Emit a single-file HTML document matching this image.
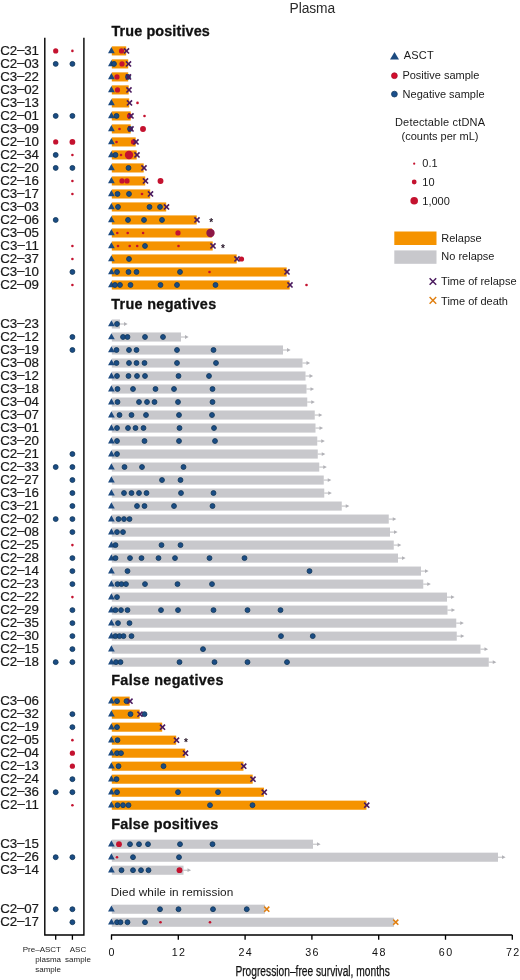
<!DOCTYPE html>
<html lang="en"><head><meta charset="utf-8"><title>Plasma</title>
<style>html,body{margin:0;padding:0;background:#fff}svg{display:block}text{font-family:"Liberation Sans",Arial,Helvetica,sans-serif;fill:#1a1a1a}.lab{font-size:13.3px;stroke:#1a1a1a;stroke-width:0.2px}.hd{font-size:14.4px;font-weight:bold;fill:#111;stroke:#111;stroke-width:0.3px}.lg{font-size:11px;fill:#1a1a1a}.tk{font-size:10.7px;fill:#111;letter-spacing:1.4px}.sm{font-size:8px;fill:#222}</style></head><body>
<svg width="520" height="980" viewBox="0 0 520 980">
<rect width="520" height="980" fill="#fff"/>
<text x="289.6" y="13" style="font-size:13.8px;fill:#2a2a2a" textLength="45.6">Plasma</text>
<text class="hd" x="111.4" y="35.5" textLength="98.4">True positives</text>
<text class="hd" x="111.2" y="308.7" textLength="105">True negatives</text>
<text class="hd" x="111.2" y="685.2" textLength="112.3">False negatives</text>
<text class="hd" x="111.2" y="828.9" textLength="107">False positives</text>
<text x="110.7" y="895.6" style="font-size:11.8px;fill:#1a1a1a" textLength="122.6">Died while in remission</text>
<text class="lab" x="0.3" y="54.6" textLength="38.7">C2<tspan dy="-0.8">–</tspan><tspan dy="0.8">31</tspan></text>
<rect x="111.8" y="46.35" width="14.4" height="9.1" fill="#F59300"/>
<path d="M111.4 47.05L114.75 53.25L108.05 53.25Z" fill="#1C4A80"/>
<circle cx="121.5" cy="50.9" r="2.6" fill="#C4122F"/>
<path d="M123.95 48.35L129.05 53.45M123.95 53.45L129.05 48.35" stroke="#4A1A5E" stroke-width="1.6" fill="none"/>
<circle cx="55.7" cy="50.9" r="2.6" fill="#C4122F"/>
<circle cx="72.4" cy="50.9" r="1.3" fill="#C4122F"/>
<text class="lab" x="0.3" y="67.61" textLength="38.7">C2<tspan dy="-0.8">–</tspan><tspan dy="0.8">03</tspan></text>
<rect x="111.8" y="59.36" width="16.4" height="9.1" fill="#F59300"/>
<path d="M111.4 60.05L114.75 66.25L108.05 66.25Z" fill="#1C4A80"/>
<circle cx="114" cy="63.91" r="2.4499999999999997" fill="#1A4C85" stroke="#133A5C" stroke-width="0.9"/>
<circle cx="122" cy="63.91" r="2.6" fill="#C4122F"/>
<path d="M125.95 61.36L131.05 66.45M125.95 66.45L131.05 61.36" stroke="#4A1A5E" stroke-width="1.6" fill="none"/>
<circle cx="55.7" cy="63.91" r="2.4499999999999997" fill="#1A4C85" stroke="#133A5C" stroke-width="0.9"/>
<circle cx="72.4" cy="63.91" r="2.4499999999999997" fill="#1A4C85" stroke="#133A5C" stroke-width="0.9"/>
<text class="lab" x="0.3" y="80.61" textLength="38.7">C3<tspan dy="-0.8">–</tspan><tspan dy="0.8">22</tspan></text>
<rect x="111.8" y="72.36" width="16.4" height="9.1" fill="#F59300"/>
<path d="M111.4 73.06L114.75 79.26L108.05 79.26Z" fill="#1C4A80"/>
<circle cx="117" cy="76.91" r="2.6" fill="#C4122F"/>
<circle cx="128" cy="76.91" r="2.4499999999999997" fill="#1A4C85" stroke="#133A5C" stroke-width="0.9"/>
<path d="M125.95 74.36L131.05 79.46M125.95 79.46L131.05 74.36" stroke="#4A1A5E" stroke-width="1.6" fill="none"/>
<text class="lab" x="0.3" y="93.61" textLength="38.7">C3<tspan dy="-0.8">–</tspan><tspan dy="0.8">02</tspan></text>
<rect x="111.8" y="85.36" width="16.9" height="9.1" fill="#F59300"/>
<path d="M111.4 86.06L114.75 92.26L108.05 92.26Z" fill="#1C4A80"/>
<circle cx="117.5" cy="89.91" r="2.6" fill="#C4122F"/>
<path d="M126.45 87.36L131.55 92.46M126.45 92.46L131.55 87.36" stroke="#4A1A5E" stroke-width="1.6" fill="none"/>
<text class="lab" x="0.3" y="106.62" textLength="38.7">C3<tspan dy="-0.8">–</tspan><tspan dy="0.8">13</tspan></text>
<rect x="111.8" y="98.37" width="17.4" height="9.1" fill="#F59300"/>
<path d="M111.4 99.07L114.75 105.27L108.05 105.27Z" fill="#1C4A80"/>
<path d="M126.95 100.37L132.05 105.47M126.95 105.47L132.05 100.37" stroke="#4A1A5E" stroke-width="1.6" fill="none"/>
<circle cx="137.5" cy="102.92" r="1.3" fill="#C4122F"/>
<text class="lab" x="0.3" y="119.63" textLength="38.7">C2<tspan dy="-0.8">–</tspan><tspan dy="0.8">01</tspan></text>
<rect x="111.8" y="111.38" width="18.9" height="9.1" fill="#F59300"/>
<path d="M111.4 112.08L114.75 118.28L108.05 118.28Z" fill="#1C4A80"/>
<circle cx="116.5" cy="115.93" r="2.4499999999999997" fill="#1A4C85" stroke="#133A5C" stroke-width="0.9"/>
<circle cx="129.5" cy="115.93" r="2.6" fill="#C4122F"/>
<path d="M128.45 113.38L133.55 118.48M128.45 118.48L133.55 113.38" stroke="#4A1A5E" stroke-width="1.6" fill="none"/>
<circle cx="144.5" cy="115.93" r="1.3" fill="#C4122F"/>
<circle cx="55.7" cy="115.93" r="2.4499999999999997" fill="#1A4C85" stroke="#133A5C" stroke-width="0.9"/>
<circle cx="72.4" cy="115.93" r="2.4499999999999997" fill="#1A4C85" stroke="#133A5C" stroke-width="0.9"/>
<text class="lab" x="0.3" y="132.63" textLength="38.7">C3<tspan dy="-0.8">–</tspan><tspan dy="0.8">09</tspan></text>
<rect x="111.8" y="124.38" width="18.9" height="9.1" fill="#F59300"/>
<path d="M111.4 125.08L114.75 131.28L108.05 131.28Z" fill="#1C4A80"/>
<circle cx="119.5" cy="128.93" r="1.3" fill="#C4122F"/>
<circle cx="130" cy="128.93" r="2.4499999999999997" fill="#1A4C85" stroke="#133A5C" stroke-width="0.9"/>
<path d="M128.45 126.38L133.55 131.48M128.45 131.48L133.55 126.38" stroke="#4A1A5E" stroke-width="1.6" fill="none"/>
<circle cx="143" cy="128.93" r="2.95" fill="#C4122F"/>
<text class="lab" x="0.3" y="145.63" textLength="38.7">C2<tspan dy="-0.8">–</tspan><tspan dy="0.8">10</tspan></text>
<rect x="111.8" y="137.38" width="23.9" height="9.1" fill="#F59300"/>
<path d="M111.4 138.09L114.75 144.28L108.05 144.28Z" fill="#1C4A80"/>
<circle cx="116.5" cy="141.94" r="1.3" fill="#C4122F"/>
<circle cx="133.5" cy="141.94" r="2.6" fill="#C4122F"/>
<path d="M133.45 139.38L138.55 144.49M133.45 144.49L138.55 139.38" stroke="#4A1A5E" stroke-width="1.6" fill="none"/>
<circle cx="55.7" cy="141.94" r="2.6" fill="#C4122F"/>
<circle cx="72.4" cy="141.94" r="2.9" fill="#C4122F"/>
<text class="lab" x="0.3" y="158.64" textLength="38.7">C2<tspan dy="-0.8">–</tspan><tspan dy="0.8">34</tspan></text>
<rect x="111.8" y="150.39" width="24.9" height="9.1" fill="#F59300"/>
<path d="M111.4 151.09L114.75 157.29L108.05 157.29Z" fill="#1C4A80"/>
<circle cx="115.5" cy="154.94" r="2.4499999999999997" fill="#1A4C85" stroke="#133A5C" stroke-width="0.9"/>
<circle cx="121" cy="154.94" r="1.3" fill="#C4122F"/>
<circle cx="129" cy="154.94" r="4.2" fill="#C4122F"/>
<path d="M134.45 152.39L139.55 157.49M134.45 157.49L139.55 152.39" stroke="#4A1A5E" stroke-width="1.6" fill="none"/>
<circle cx="55.7" cy="154.94" r="2.4499999999999997" fill="#1A4C85" stroke="#133A5C" stroke-width="0.9"/>
<circle cx="72.4" cy="154.94" r="1.3" fill="#C4122F"/>
<text class="lab" x="0.3" y="171.64" textLength="38.7">C2<tspan dy="-0.8">–</tspan><tspan dy="0.8">20</tspan></text>
<rect x="111.8" y="163.39" width="31.9" height="9.1" fill="#F59300"/>
<path d="M111.4 164.09L114.75 170.29L108.05 170.29Z" fill="#1C4A80"/>
<circle cx="128.5" cy="167.94" r="2.4499999999999997" fill="#1A4C85" stroke="#133A5C" stroke-width="0.9"/>
<path d="M141.45 165.39L146.55 170.5M141.45 170.5L146.55 165.39" stroke="#4A1A5E" stroke-width="1.6" fill="none"/>
<circle cx="55.7" cy="167.94" r="2.4499999999999997" fill="#1A4C85" stroke="#133A5C" stroke-width="0.9"/>
<circle cx="72.4" cy="167.94" r="2.4499999999999997" fill="#1A4C85" stroke="#133A5C" stroke-width="0.9"/>
<text class="lab" x="0.3" y="184.65" textLength="38.7">C2<tspan dy="-0.8">–</tspan><tspan dy="0.8">16</tspan></text>
<rect x="111.8" y="176.4" width="33.4" height="9.1" fill="#F59300"/>
<path d="M111.4 177.1L114.75 183.3L108.05 183.3Z" fill="#1C4A80"/>
<circle cx="122" cy="180.95" r="2.6" fill="#C4122F"/>
<circle cx="127" cy="180.95" r="2.6" fill="#C4122F"/>
<path d="M142.95 178.4L148.05 183.5M142.95 183.5L148.05 178.4" stroke="#4A1A5E" stroke-width="1.6" fill="none"/>
<circle cx="160.5" cy="180.95" r="2.95" fill="#C4122F"/>
<circle cx="72.4" cy="180.95" r="1.3" fill="#C4122F"/>
<text class="lab" x="0.3" y="197.66" textLength="38.7">C3<tspan dy="-0.8">–</tspan><tspan dy="0.8">17</tspan></text>
<rect x="111.8" y="189.41" width="38.4" height="9.1" fill="#F59300"/>
<path d="M111.4 190.11L114.75 196.31L108.05 196.31Z" fill="#1C4A80"/>
<circle cx="117.5" cy="193.96" r="2.4499999999999997" fill="#1A4C85" stroke="#133A5C" stroke-width="0.9"/>
<circle cx="129" cy="193.96" r="2.4499999999999997" fill="#1A4C85" stroke="#133A5C" stroke-width="0.9"/>
<circle cx="142" cy="193.96" r="1.3" fill="#C4122F"/>
<path d="M147.95 191.41L153.05 196.51M147.95 196.51L153.05 191.41" stroke="#4A1A5E" stroke-width="1.6" fill="none"/>
<circle cx="72.4" cy="193.96" r="1.3" fill="#C4122F"/>
<text class="lab" x="0.3" y="210.66" textLength="38.7">C3<tspan dy="-0.8">–</tspan><tspan dy="0.8">03</tspan></text>
<rect x="111.8" y="202.41" width="54.4" height="9.1" fill="#F59300"/>
<path d="M111.4 203.11L114.75 209.31L108.05 209.31Z" fill="#1C4A80"/>
<circle cx="118" cy="206.96" r="2.4499999999999997" fill="#1A4C85" stroke="#133A5C" stroke-width="0.9"/>
<circle cx="149.5" cy="206.96" r="2.4499999999999997" fill="#1A4C85" stroke="#133A5C" stroke-width="0.9"/>
<circle cx="160" cy="206.96" r="2.4499999999999997" fill="#1A4C85" stroke="#133A5C" stroke-width="0.9"/>
<path d="M163.95 204.41L169.05 209.51M163.95 209.51L169.05 204.41" stroke="#4A1A5E" stroke-width="1.6" fill="none"/>
<text class="lab" x="0.3" y="223.66" textLength="38.7">C2<tspan dy="-0.8">–</tspan><tspan dy="0.8">06</tspan></text>
<rect x="111.8" y="215.41" width="84.9" height="9.1" fill="#F59300"/>
<path d="M111.4 216.12L114.75 222.31L108.05 222.31Z" fill="#1C4A80"/>
<circle cx="128" cy="219.97" r="2.4499999999999997" fill="#1A4C85" stroke="#133A5C" stroke-width="0.9"/>
<circle cx="144" cy="219.97" r="2.4499999999999997" fill="#1A4C85" stroke="#133A5C" stroke-width="0.9"/>
<circle cx="162" cy="219.97" r="2.4499999999999997" fill="#1A4C85" stroke="#133A5C" stroke-width="0.9"/>
<path d="M194.45 217.41L199.55 222.52M194.45 222.52L199.55 217.41" stroke="#4A1A5E" stroke-width="1.6" fill="none"/>
<text x="209.34" y="225.81" style="font-size:10px;font-weight:bold;fill:#231225">*</text>
<circle cx="55.7" cy="219.97" r="2.4499999999999997" fill="#1A4C85" stroke="#133A5C" stroke-width="0.9"/>
<text class="lab" x="0.3" y="236.67" textLength="38.7">C3<tspan dy="-0.8">–</tspan><tspan dy="0.8">05</tspan></text>
<rect x="111.8" y="228.42" width="100.2" height="9.1" fill="#F59300"/>
<path d="M111.4 229.12L114.75 235.32L108.05 235.32Z" fill="#1C4A80"/>
<circle cx="117.3" cy="232.97" r="1.3" fill="#C4122F"/>
<circle cx="127.7" cy="232.97" r="1.3" fill="#C4122F"/>
<circle cx="143.1" cy="232.97" r="1.3" fill="#C4122F"/>
<circle cx="178" cy="232.97" r="2.6" fill="#C4122F"/>
<path d="M207.95 230.42L213.05 235.52M207.95 235.52L213.05 230.42" stroke="#4A1A5E" stroke-width="1.6" fill="none"/>
<circle cx="210.5" cy="232.97" r="4.2" fill="#8E1846"/>
<text class="lab" x="0.3" y="249.68" textLength="38.7">C3<tspan dy="-0.8">–</tspan><tspan dy="0.8">11</tspan></text>
<rect x="111.8" y="241.43" width="100.9" height="9.1" fill="#F59300"/>
<path d="M111.4 242.13L114.75 248.33L108.05 248.33Z" fill="#1C4A80"/>
<circle cx="118" cy="245.98" r="1.3" fill="#C4122F"/>
<circle cx="129.7" cy="245.98" r="1.3" fill="#C4122F"/>
<circle cx="137.2" cy="245.98" r="1.3" fill="#C4122F"/>
<circle cx="145" cy="245.98" r="2.4499999999999997" fill="#1A4C85" stroke="#133A5C" stroke-width="0.9"/>
<circle cx="178.5" cy="245.98" r="1.3" fill="#C4122F"/>
<path d="M210.45 243.43L215.55 248.53M210.45 248.53L215.55 243.43" stroke="#4A1A5E" stroke-width="1.6" fill="none"/>
<text x="221.04" y="251.83" style="font-size:10px;font-weight:bold;fill:#231225">*</text>
<circle cx="72.4" cy="245.98" r="1.3" fill="#C4122F"/>
<text class="lab" x="0.3" y="262.68" textLength="38.7">C2<tspan dy="-0.8">–</tspan><tspan dy="0.8">37</tspan></text>
<rect x="111.8" y="254.43" width="124.9" height="9.1" fill="#F59300"/>
<path d="M111.4 255.13L114.75 261.33L108.05 261.33Z" fill="#1C4A80"/>
<circle cx="129" cy="258.98" r="2.4499999999999997" fill="#1A4C85" stroke="#133A5C" stroke-width="0.9"/>
<circle cx="241.5" cy="258.98" r="2.6" fill="#C4122F"/>
<path d="M234.45 256.43L239.55 261.53M234.45 261.53L239.55 256.43" stroke="#4A1A5E" stroke-width="1.6" fill="none"/>
<circle cx="72.4" cy="258.98" r="1.3" fill="#C4122F"/>
<text class="lab" x="0.3" y="275.69" textLength="38.7">C3<tspan dy="-0.8">–</tspan><tspan dy="0.8">10</tspan></text>
<rect x="111.8" y="267.44" width="174.9" height="9.1" fill="#F59300"/>
<path d="M111.4 268.13L114.75 274.34L108.05 274.34Z" fill="#1C4A80"/>
<circle cx="117" cy="271.99" r="2.4499999999999997" fill="#1A4C85" stroke="#133A5C" stroke-width="0.9"/>
<circle cx="128.5" cy="271.99" r="2.4499999999999997" fill="#1A4C85" stroke="#133A5C" stroke-width="0.9"/>
<circle cx="136.5" cy="271.99" r="2.4499999999999997" fill="#1A4C85" stroke="#133A5C" stroke-width="0.9"/>
<circle cx="180" cy="271.99" r="2.4499999999999997" fill="#1A4C85" stroke="#133A5C" stroke-width="0.9"/>
<circle cx="209.5" cy="271.99" r="1.3" fill="#C4122F"/>
<path d="M284.45 269.44L289.55 274.54M284.45 274.54L289.55 269.44" stroke="#4A1A5E" stroke-width="1.6" fill="none"/>
<circle cx="72.4" cy="271.99" r="2.4499999999999997" fill="#1A4C85" stroke="#133A5C" stroke-width="0.9"/>
<text class="lab" x="0.3" y="288.69" textLength="38.7">C2<tspan dy="-0.8">–</tspan><tspan dy="0.8">09</tspan></text>
<rect x="111.8" y="280.44" width="177.9" height="9.1" fill="#F59300"/>
<path d="M111.4 281.14L114.75 287.34L108.05 287.34Z" fill="#1C4A80"/>
<circle cx="115" cy="284.99" r="2.4499999999999997" fill="#1A4C85" stroke="#133A5C" stroke-width="0.9"/>
<circle cx="120" cy="284.99" r="2.4499999999999997" fill="#1A4C85" stroke="#133A5C" stroke-width="0.9"/>
<circle cx="130.5" cy="284.99" r="2.4499999999999997" fill="#1A4C85" stroke="#133A5C" stroke-width="0.9"/>
<circle cx="160.5" cy="284.99" r="2.4499999999999997" fill="#1A4C85" stroke="#133A5C" stroke-width="0.9"/>
<circle cx="177" cy="284.99" r="2.4499999999999997" fill="#1A4C85" stroke="#133A5C" stroke-width="0.9"/>
<circle cx="215.5" cy="284.99" r="2.4499999999999997" fill="#1A4C85" stroke="#133A5C" stroke-width="0.9"/>
<path d="M287.45 282.44L292.55 287.54M287.45 287.54L292.55 282.44" stroke="#4A1A5E" stroke-width="1.6" fill="none"/>
<circle cx="306.5" cy="284.99" r="1.3" fill="#C4122F"/>
<circle cx="72.4" cy="284.99" r="1.3" fill="#C4122F"/>
<text class="lab" x="0.3" y="327.7" textLength="38.7">C3<tspan dy="-0.8">–</tspan><tspan dy="0.8">23</tspan></text>
<rect x="111.8" y="319.45" width="8.2" height="9.1" fill="#C8C8CC"/>
<path d="M111.4 320.15L114.75 326.36L108.05 326.36Z" fill="#1C4A80"/>
<circle cx="117" cy="324" r="2.4499999999999997" fill="#1A4C85" stroke="#133A5C" stroke-width="0.9"/>
<path d="M120 324H125.6" stroke="#B2B2B7" stroke-width="0.9" fill="none"/><path d="M127.6 324L124 322.11L124 325.9Z" fill="#B2B2B7"/>
<text class="lab" x="0.3" y="340.71" textLength="38.7">C2<tspan dy="-0.8">–</tspan><tspan dy="0.8">12</tspan></text>
<rect x="111.8" y="332.46" width="69.2" height="9.1" fill="#C8C8CC"/>
<path d="M111.4 333.16L114.75 339.36L108.05 339.36Z" fill="#1C4A80"/>
<circle cx="123" cy="337.01" r="2.4499999999999997" fill="#1A4C85" stroke="#133A5C" stroke-width="0.9"/>
<circle cx="127.5" cy="337.01" r="2.4499999999999997" fill="#1A4C85" stroke="#133A5C" stroke-width="0.9"/>
<circle cx="145" cy="337.01" r="2.4499999999999997" fill="#1A4C85" stroke="#133A5C" stroke-width="0.9"/>
<circle cx="163" cy="337.01" r="2.4499999999999997" fill="#1A4C85" stroke="#133A5C" stroke-width="0.9"/>
<path d="M181 337.01H186.6" stroke="#B2B2B7" stroke-width="0.9" fill="none"/><path d="M188.6 337.01L185 335.11L185 338.91Z" fill="#B2B2B7"/>
<circle cx="72.4" cy="337.01" r="2.4499999999999997" fill="#1A4C85" stroke="#133A5C" stroke-width="0.9"/>
<text class="lab" x="0.3" y="353.71" textLength="38.7">C3<tspan dy="-0.8">–</tspan><tspan dy="0.8">19</tspan></text>
<rect x="111.8" y="345.46" width="171.2" height="9.1" fill="#C8C8CC"/>
<path d="M111.4 346.16L114.75 352.37L108.05 352.37Z" fill="#1C4A80"/>
<circle cx="116.5" cy="350.01" r="2.4499999999999997" fill="#1A4C85" stroke="#133A5C" stroke-width="0.9"/>
<circle cx="129" cy="350.01" r="2.4499999999999997" fill="#1A4C85" stroke="#133A5C" stroke-width="0.9"/>
<circle cx="136.5" cy="350.01" r="2.4499999999999997" fill="#1A4C85" stroke="#133A5C" stroke-width="0.9"/>
<circle cx="177" cy="350.01" r="2.4499999999999997" fill="#1A4C85" stroke="#133A5C" stroke-width="0.9"/>
<circle cx="213.5" cy="350.01" r="2.4499999999999997" fill="#1A4C85" stroke="#133A5C" stroke-width="0.9"/>
<path d="M283 350.01H288.6" stroke="#B2B2B7" stroke-width="0.9" fill="none"/><path d="M290.6 350.01L287 348.12L287 351.91Z" fill="#B2B2B7"/>
<circle cx="72.4" cy="350.01" r="2.4499999999999997" fill="#1A4C85" stroke="#133A5C" stroke-width="0.9"/>
<text class="lab" x="0.3" y="366.72" textLength="38.7">C3<tspan dy="-0.8">–</tspan><tspan dy="0.8">08</tspan></text>
<rect x="111.8" y="358.47" width="190.7" height="9.1" fill="#C8C8CC"/>
<path d="M111.4 359.17L114.75 365.37L108.05 365.37Z" fill="#1C4A80"/>
<circle cx="116.5" cy="363.02" r="2.4499999999999997" fill="#1A4C85" stroke="#133A5C" stroke-width="0.9"/>
<circle cx="129" cy="363.02" r="2.4499999999999997" fill="#1A4C85" stroke="#133A5C" stroke-width="0.9"/>
<circle cx="136.5" cy="363.02" r="2.4499999999999997" fill="#1A4C85" stroke="#133A5C" stroke-width="0.9"/>
<circle cx="144.5" cy="363.02" r="2.4499999999999997" fill="#1A4C85" stroke="#133A5C" stroke-width="0.9"/>
<circle cx="177" cy="363.02" r="2.4499999999999997" fill="#1A4C85" stroke="#133A5C" stroke-width="0.9"/>
<circle cx="216" cy="363.02" r="2.4499999999999997" fill="#1A4C85" stroke="#133A5C" stroke-width="0.9"/>
<path d="M302.5 363.02H308.1" stroke="#B2B2B7" stroke-width="0.9" fill="none"/><path d="M310.1 363.02L306.5 361.12L306.5 364.92Z" fill="#B2B2B7"/>
<text class="lab" x="0.3" y="379.72" textLength="38.7">C3<tspan dy="-0.8">–</tspan><tspan dy="0.8">12</tspan></text>
<rect x="111.8" y="371.47" width="193.7" height="9.1" fill="#C8C8CC"/>
<path d="M111.4 372.17L114.75 378.38L108.05 378.38Z" fill="#1C4A80"/>
<circle cx="117" cy="376.02" r="2.4499999999999997" fill="#1A4C85" stroke="#133A5C" stroke-width="0.9"/>
<circle cx="128.5" cy="376.02" r="2.4499999999999997" fill="#1A4C85" stroke="#133A5C" stroke-width="0.9"/>
<circle cx="137" cy="376.02" r="2.4499999999999997" fill="#1A4C85" stroke="#133A5C" stroke-width="0.9"/>
<circle cx="145" cy="376.02" r="2.4499999999999997" fill="#1A4C85" stroke="#133A5C" stroke-width="0.9"/>
<circle cx="178.5" cy="376.02" r="2.4499999999999997" fill="#1A4C85" stroke="#133A5C" stroke-width="0.9"/>
<circle cx="209" cy="376.02" r="2.4499999999999997" fill="#1A4C85" stroke="#133A5C" stroke-width="0.9"/>
<path d="M305.5 376.02H311.1" stroke="#B2B2B7" stroke-width="0.9" fill="none"/><path d="M313.1 376.02L309.5 374.12L309.5 377.92Z" fill="#B2B2B7"/>
<text class="lab" x="0.3" y="392.73" textLength="38.7">C3<tspan dy="-0.8">–</tspan><tspan dy="0.8">18</tspan></text>
<rect x="111.8" y="384.48" width="194.7" height="9.1" fill="#C8C8CC"/>
<path d="M111.4 385.18L114.75 391.38L108.05 391.38Z" fill="#1C4A80"/>
<circle cx="117.5" cy="389.03" r="2.4499999999999997" fill="#1A4C85" stroke="#133A5C" stroke-width="0.9"/>
<circle cx="133" cy="389.03" r="2.4499999999999997" fill="#1A4C85" stroke="#133A5C" stroke-width="0.9"/>
<circle cx="155.5" cy="389.03" r="2.4499999999999997" fill="#1A4C85" stroke="#133A5C" stroke-width="0.9"/>
<circle cx="174" cy="389.03" r="2.4499999999999997" fill="#1A4C85" stroke="#133A5C" stroke-width="0.9"/>
<circle cx="212.5" cy="389.03" r="2.4499999999999997" fill="#1A4C85" stroke="#133A5C" stroke-width="0.9"/>
<path d="M306.5 389.03H312.1" stroke="#B2B2B7" stroke-width="0.9" fill="none"/><path d="M314.1 389.03L310.5 387.13L310.5 390.93Z" fill="#B2B2B7"/>
<text class="lab" x="0.3" y="405.74" textLength="38.7">C3<tspan dy="-0.8">–</tspan><tspan dy="0.8">04</tspan></text>
<rect x="111.8" y="397.49" width="195.45" height="9.1" fill="#C8C8CC"/>
<path d="M111.4 398.19L114.75 404.39L108.05 404.39Z" fill="#1C4A80"/>
<circle cx="117.5" cy="402.04" r="2.4499999999999997" fill="#1A4C85" stroke="#133A5C" stroke-width="0.9"/>
<circle cx="139" cy="402.04" r="2.4499999999999997" fill="#1A4C85" stroke="#133A5C" stroke-width="0.9"/>
<circle cx="147" cy="402.04" r="2.4499999999999997" fill="#1A4C85" stroke="#133A5C" stroke-width="0.9"/>
<circle cx="154.5" cy="402.04" r="2.4499999999999997" fill="#1A4C85" stroke="#133A5C" stroke-width="0.9"/>
<circle cx="178" cy="402.04" r="2.4499999999999997" fill="#1A4C85" stroke="#133A5C" stroke-width="0.9"/>
<circle cx="212.5" cy="402.04" r="2.4499999999999997" fill="#1A4C85" stroke="#133A5C" stroke-width="0.9"/>
<path d="M307.25 402.04H312.85" stroke="#B2B2B7" stroke-width="0.9" fill="none"/><path d="M314.85 402.04L311.25 400.14L311.25 403.94Z" fill="#B2B2B7"/>
<text class="lab" x="0.3" y="418.74" textLength="38.7">C3<tspan dy="-0.8">–</tspan><tspan dy="0.8">07</tspan></text>
<rect x="111.8" y="410.49" width="202.95" height="9.1" fill="#C8C8CC"/>
<path d="M111.4 411.19L114.75 417.39L108.05 417.39Z" fill="#1C4A80"/>
<circle cx="119.5" cy="415.04" r="2.4499999999999997" fill="#1A4C85" stroke="#133A5C" stroke-width="0.9"/>
<circle cx="131.5" cy="415.04" r="2.4499999999999997" fill="#1A4C85" stroke="#133A5C" stroke-width="0.9"/>
<circle cx="146" cy="415.04" r="2.4499999999999997" fill="#1A4C85" stroke="#133A5C" stroke-width="0.9"/>
<circle cx="179" cy="415.04" r="2.4499999999999997" fill="#1A4C85" stroke="#133A5C" stroke-width="0.9"/>
<circle cx="212" cy="415.04" r="2.4499999999999997" fill="#1A4C85" stroke="#133A5C" stroke-width="0.9"/>
<path d="M314.75 415.04H320.35" stroke="#B2B2B7" stroke-width="0.9" fill="none"/><path d="M322.35 415.04L318.75 413.14L318.75 416.94Z" fill="#B2B2B7"/>
<text class="lab" x="0.3" y="431.75" textLength="38.7">C3<tspan dy="-0.8">–</tspan><tspan dy="0.8">01</tspan></text>
<rect x="111.8" y="423.5" width="203.7" height="9.1" fill="#C8C8CC"/>
<path d="M111.4 424.19L114.75 430.4L108.05 430.4Z" fill="#1C4A80"/>
<circle cx="117" cy="428.05" r="2.4499999999999997" fill="#1A4C85" stroke="#133A5C" stroke-width="0.9"/>
<circle cx="128" cy="428.05" r="2.4499999999999997" fill="#1A4C85" stroke="#133A5C" stroke-width="0.9"/>
<circle cx="135.5" cy="428.05" r="2.4499999999999997" fill="#1A4C85" stroke="#133A5C" stroke-width="0.9"/>
<circle cx="143.5" cy="428.05" r="2.4499999999999997" fill="#1A4C85" stroke="#133A5C" stroke-width="0.9"/>
<circle cx="179.5" cy="428.05" r="2.4499999999999997" fill="#1A4C85" stroke="#133A5C" stroke-width="0.9"/>
<circle cx="214" cy="428.05" r="2.4499999999999997" fill="#1A4C85" stroke="#133A5C" stroke-width="0.9"/>
<path d="M315.5 428.05H321.1" stroke="#B2B2B7" stroke-width="0.9" fill="none"/><path d="M323.1 428.05L319.5 426.15L319.5 429.94Z" fill="#B2B2B7"/>
<text class="lab" x="0.3" y="444.75" textLength="38.7">C3<tspan dy="-0.8">–</tspan><tspan dy="0.8">20</tspan></text>
<rect x="111.8" y="436.5" width="205.45" height="9.1" fill="#C8C8CC"/>
<path d="M111.4 437.2L114.75 443.4L108.05 443.4Z" fill="#1C4A80"/>
<circle cx="117" cy="441.05" r="2.4499999999999997" fill="#1A4C85" stroke="#133A5C" stroke-width="0.9"/>
<circle cx="144.5" cy="441.05" r="2.4499999999999997" fill="#1A4C85" stroke="#133A5C" stroke-width="0.9"/>
<circle cx="179" cy="441.05" r="2.4499999999999997" fill="#1A4C85" stroke="#133A5C" stroke-width="0.9"/>
<circle cx="215" cy="441.05" r="2.4499999999999997" fill="#1A4C85" stroke="#133A5C" stroke-width="0.9"/>
<path d="M317.25 441.05H322.85" stroke="#B2B2B7" stroke-width="0.9" fill="none"/><path d="M324.85 441.05L321.25 439.15L321.25 442.95Z" fill="#B2B2B7"/>
<text class="lab" x="0.3" y="457.75" textLength="38.7">C2<tspan dy="-0.8">–</tspan><tspan dy="0.8">21</tspan></text>
<rect x="111.8" y="449.5" width="205.95" height="9.1" fill="#C8C8CC"/>
<path d="M111.4 450.2L114.75 456.41L108.05 456.41Z" fill="#1C4A80"/>
<circle cx="117" cy="454.06" r="2.4499999999999997" fill="#1A4C85" stroke="#133A5C" stroke-width="0.9"/>
<path d="M317.75 454.06H323.35" stroke="#B2B2B7" stroke-width="0.9" fill="none"/><path d="M325.35 454.06L321.75 452.16L321.75 455.95Z" fill="#B2B2B7"/>
<circle cx="72.4" cy="454.06" r="2.4499999999999997" fill="#1A4C85" stroke="#133A5C" stroke-width="0.9"/>
<text class="lab" x="0.3" y="470.76" textLength="38.7">C2<tspan dy="-0.8">–</tspan><tspan dy="0.8">33</tspan></text>
<rect x="111.8" y="462.51" width="207.45" height="9.1" fill="#C8C8CC"/>
<path d="M111.4 463.21L114.75 469.41L108.05 469.41Z" fill="#1C4A80"/>
<circle cx="124.5" cy="467.06" r="2.4499999999999997" fill="#1A4C85" stroke="#133A5C" stroke-width="0.9"/>
<circle cx="142" cy="467.06" r="2.4499999999999997" fill="#1A4C85" stroke="#133A5C" stroke-width="0.9"/>
<circle cx="183.5" cy="467.06" r="2.4499999999999997" fill="#1A4C85" stroke="#133A5C" stroke-width="0.9"/>
<path d="M319.25 467.06H324.85" stroke="#B2B2B7" stroke-width="0.9" fill="none"/><path d="M326.85 467.06L323.25 465.16L323.25 468.96Z" fill="#B2B2B7"/>
<circle cx="55.7" cy="467.06" r="2.4499999999999997" fill="#1A4C85" stroke="#133A5C" stroke-width="0.9"/>
<circle cx="72.4" cy="467.06" r="2.4499999999999997" fill="#1A4C85" stroke="#133A5C" stroke-width="0.9"/>
<text class="lab" x="0.3" y="483.76" textLength="38.7">C2<tspan dy="-0.8">–</tspan><tspan dy="0.8">27</tspan></text>
<rect x="111.8" y="475.51" width="211.95" height="9.1" fill="#C8C8CC"/>
<path d="M111.4 476.21L114.75 482.42L108.05 482.42Z" fill="#1C4A80"/>
<circle cx="162" cy="480.06" r="2.4499999999999997" fill="#1A4C85" stroke="#133A5C" stroke-width="0.9"/>
<circle cx="180.5" cy="480.06" r="2.4499999999999997" fill="#1A4C85" stroke="#133A5C" stroke-width="0.9"/>
<path d="M323.75 480.06H329.35" stroke="#B2B2B7" stroke-width="0.9" fill="none"/><path d="M331.35 480.06L327.75 478.17L327.75 481.96Z" fill="#B2B2B7"/>
<circle cx="72.4" cy="480.06" r="2.4499999999999997" fill="#1A4C85" stroke="#133A5C" stroke-width="0.9"/>
<text class="lab" x="0.3" y="496.77" textLength="38.7">C3<tspan dy="-0.8">–</tspan><tspan dy="0.8">16</tspan></text>
<rect x="111.8" y="488.52" width="212.45" height="9.1" fill="#C8C8CC"/>
<path d="M111.4 489.22L114.75 495.42L108.05 495.42Z" fill="#1C4A80"/>
<circle cx="124" cy="493.07" r="2.4499999999999997" fill="#1A4C85" stroke="#133A5C" stroke-width="0.9"/>
<circle cx="131.5" cy="493.07" r="2.4499999999999997" fill="#1A4C85" stroke="#133A5C" stroke-width="0.9"/>
<circle cx="139" cy="493.07" r="2.4499999999999997" fill="#1A4C85" stroke="#133A5C" stroke-width="0.9"/>
<circle cx="146.5" cy="493.07" r="2.4499999999999997" fill="#1A4C85" stroke="#133A5C" stroke-width="0.9"/>
<circle cx="181" cy="493.07" r="2.4499999999999997" fill="#1A4C85" stroke="#133A5C" stroke-width="0.9"/>
<circle cx="213.5" cy="493.07" r="2.4499999999999997" fill="#1A4C85" stroke="#133A5C" stroke-width="0.9"/>
<path d="M324.25 493.07H329.85" stroke="#B2B2B7" stroke-width="0.9" fill="none"/><path d="M331.85 493.07L328.25 491.17L328.25 494.97Z" fill="#B2B2B7"/>
<circle cx="72.4" cy="493.07" r="2.4499999999999997" fill="#1A4C85" stroke="#133A5C" stroke-width="0.9"/>
<text class="lab" x="0.3" y="509.77" textLength="38.7">C3<tspan dy="-0.8">–</tspan><tspan dy="0.8">21</tspan></text>
<rect x="111.8" y="501.52" width="229.95" height="9.1" fill="#C8C8CC"/>
<path d="M111.4 502.22L114.75 508.43L108.05 508.43Z" fill="#1C4A80"/>
<circle cx="137" cy="506.07" r="2.4499999999999997" fill="#1A4C85" stroke="#133A5C" stroke-width="0.9"/>
<circle cx="144.5" cy="506.07" r="2.4499999999999997" fill="#1A4C85" stroke="#133A5C" stroke-width="0.9"/>
<circle cx="174" cy="506.07" r="2.4499999999999997" fill="#1A4C85" stroke="#133A5C" stroke-width="0.9"/>
<circle cx="212.5" cy="506.07" r="2.4499999999999997" fill="#1A4C85" stroke="#133A5C" stroke-width="0.9"/>
<path d="M341.75 506.07H347.35" stroke="#B2B2B7" stroke-width="0.9" fill="none"/><path d="M349.35 506.07L345.75 504.18L345.75 507.97Z" fill="#B2B2B7"/>
<circle cx="72.4" cy="506.07" r="2.4499999999999997" fill="#1A4C85" stroke="#133A5C" stroke-width="0.9"/>
<text class="lab" x="0.3" y="522.78" textLength="38.7">C2<tspan dy="-0.8">–</tspan><tspan dy="0.8">02</tspan></text>
<rect x="111.8" y="514.53" width="276.95" height="9.1" fill="#C8C8CC"/>
<path d="M111.4 515.23L114.75 521.43L108.05 521.43Z" fill="#1C4A80"/>
<circle cx="118.5" cy="519.08" r="2.4499999999999997" fill="#1A4C85" stroke="#133A5C" stroke-width="0.9"/>
<circle cx="124" cy="519.08" r="2.4499999999999997" fill="#1A4C85" stroke="#133A5C" stroke-width="0.9"/>
<circle cx="129.5" cy="519.08" r="2.4499999999999997" fill="#1A4C85" stroke="#133A5C" stroke-width="0.9"/>
<path d="M388.75 519.08H394.35" stroke="#B2B2B7" stroke-width="0.9" fill="none"/><path d="M396.35 519.08L392.75 517.18L392.75 520.98Z" fill="#B2B2B7"/>
<circle cx="55.7" cy="519.08" r="2.4499999999999997" fill="#1A4C85" stroke="#133A5C" stroke-width="0.9"/>
<circle cx="72.4" cy="519.08" r="2.4499999999999997" fill="#1A4C85" stroke="#133A5C" stroke-width="0.9"/>
<text class="lab" x="0.3" y="535.79" textLength="38.7">C2<tspan dy="-0.8">–</tspan><tspan dy="0.8">08</tspan></text>
<rect x="111.8" y="527.54" width="278.2" height="9.1" fill="#C8C8CC"/>
<path d="M111.4 528.24L114.75 534.44L108.05 534.44Z" fill="#1C4A80"/>
<circle cx="117" cy="532.09" r="2.4499999999999997" fill="#1A4C85" stroke="#133A5C" stroke-width="0.9"/>
<circle cx="123" cy="532.09" r="2.4499999999999997" fill="#1A4C85" stroke="#133A5C" stroke-width="0.9"/>
<path d="M390 532.09H395.6" stroke="#B2B2B7" stroke-width="0.9" fill="none"/><path d="M397.6 532.09L394 530.19L394 533.99Z" fill="#B2B2B7"/>
<circle cx="72.4" cy="532.09" r="2.4499999999999997" fill="#1A4C85" stroke="#133A5C" stroke-width="0.9"/>
<text class="lab" x="0.3" y="548.79" textLength="38.7">C2<tspan dy="-0.8">–</tspan><tspan dy="0.8">25</tspan></text>
<rect x="111.8" y="540.54" width="281.95" height="9.1" fill="#C8C8CC"/>
<path d="M111.4 541.24L114.75 547.44L108.05 547.44Z" fill="#1C4A80"/>
<circle cx="115.5" cy="545.09" r="2.4499999999999997" fill="#1A4C85" stroke="#133A5C" stroke-width="0.9"/>
<circle cx="161.5" cy="545.09" r="2.4499999999999997" fill="#1A4C85" stroke="#133A5C" stroke-width="0.9"/>
<circle cx="180.5" cy="545.09" r="2.4499999999999997" fill="#1A4C85" stroke="#133A5C" stroke-width="0.9"/>
<path d="M393.75 545.09H399.35" stroke="#B2B2B7" stroke-width="0.9" fill="none"/><path d="M401.35 545.09L397.75 543.19L397.75 546.99Z" fill="#B2B2B7"/>
<circle cx="72.4" cy="545.09" r="1.3" fill="#C4122F"/>
<text class="lab" x="0.3" y="561.8" textLength="38.7">C2<tspan dy="-0.8">–</tspan><tspan dy="0.8">28</tspan></text>
<rect x="111.8" y="553.55" width="286.2" height="9.1" fill="#C8C8CC"/>
<path d="M111.4 554.25L114.75 560.45L108.05 560.45Z" fill="#1C4A80"/>
<circle cx="115.5" cy="558.1" r="2.4499999999999997" fill="#1A4C85" stroke="#133A5C" stroke-width="0.9"/>
<circle cx="130" cy="558.1" r="2.4499999999999997" fill="#1A4C85" stroke="#133A5C" stroke-width="0.9"/>
<circle cx="141.5" cy="558.1" r="2.4499999999999997" fill="#1A4C85" stroke="#133A5C" stroke-width="0.9"/>
<circle cx="158.5" cy="558.1" r="2.4499999999999997" fill="#1A4C85" stroke="#133A5C" stroke-width="0.9"/>
<circle cx="175" cy="558.1" r="2.4499999999999997" fill="#1A4C85" stroke="#133A5C" stroke-width="0.9"/>
<circle cx="209.5" cy="558.1" r="2.4499999999999997" fill="#1A4C85" stroke="#133A5C" stroke-width="0.9"/>
<circle cx="244.5" cy="558.1" r="2.4499999999999997" fill="#1A4C85" stroke="#133A5C" stroke-width="0.9"/>
<path d="M398 558.1H403.6" stroke="#B2B2B7" stroke-width="0.9" fill="none"/><path d="M405.6 558.1L402 556.2L402 560Z" fill="#B2B2B7"/>
<circle cx="72.4" cy="558.1" r="2.4499999999999997" fill="#1A4C85" stroke="#133A5C" stroke-width="0.9"/>
<text class="lab" x="0.3" y="574.8" textLength="38.7">C2<tspan dy="-0.8">–</tspan><tspan dy="0.8">14</tspan></text>
<rect x="111.8" y="566.55" width="309.2" height="9.1" fill="#C8C8CC"/>
<path d="M111.4 567.25L114.75 573.45L108.05 573.45Z" fill="#1C4A80"/>
<circle cx="127.5" cy="571.1" r="2.4499999999999997" fill="#1A4C85" stroke="#133A5C" stroke-width="0.9"/>
<circle cx="309.5" cy="571.1" r="2.4499999999999997" fill="#1A4C85" stroke="#133A5C" stroke-width="0.9"/>
<path d="M421 571.1H426.6" stroke="#B2B2B7" stroke-width="0.9" fill="none"/><path d="M428.6 571.1L425 569.2L425 573Z" fill="#B2B2B7"/>
<circle cx="72.4" cy="571.1" r="2.4499999999999997" fill="#1A4C85" stroke="#133A5C" stroke-width="0.9"/>
<text class="lab" x="0.3" y="587.81" textLength="38.7">C2<tspan dy="-0.8">–</tspan><tspan dy="0.8">23</tspan></text>
<rect x="111.8" y="579.56" width="311.45" height="9.1" fill="#C8C8CC"/>
<path d="M111.4 580.25L114.75 586.46L108.05 586.46Z" fill="#1C4A80"/>
<circle cx="117.5" cy="584.11" r="2.4499999999999997" fill="#1A4C85" stroke="#133A5C" stroke-width="0.9"/>
<circle cx="121.5" cy="584.11" r="2.4499999999999997" fill="#1A4C85" stroke="#133A5C" stroke-width="0.9"/>
<circle cx="126" cy="584.11" r="2.4499999999999997" fill="#1A4C85" stroke="#133A5C" stroke-width="0.9"/>
<circle cx="145" cy="584.11" r="2.4499999999999997" fill="#1A4C85" stroke="#133A5C" stroke-width="0.9"/>
<circle cx="177.5" cy="584.11" r="2.4499999999999997" fill="#1A4C85" stroke="#133A5C" stroke-width="0.9"/>
<circle cx="212" cy="584.11" r="2.4499999999999997" fill="#1A4C85" stroke="#133A5C" stroke-width="0.9"/>
<path d="M423.25 584.11H428.85" stroke="#B2B2B7" stroke-width="0.9" fill="none"/><path d="M430.85 584.11L427.25 582.21L427.25 586Z" fill="#B2B2B7"/>
<circle cx="72.4" cy="584.11" r="2.4499999999999997" fill="#1A4C85" stroke="#133A5C" stroke-width="0.9"/>
<text class="lab" x="0.3" y="600.81" textLength="38.7">C2<tspan dy="-0.8">–</tspan><tspan dy="0.8">22</tspan></text>
<rect x="111.8" y="592.56" width="335.2" height="9.1" fill="#C8C8CC"/>
<path d="M111.4 593.26L114.75 599.46L108.05 599.46Z" fill="#1C4A80"/>
<circle cx="117" cy="597.11" r="2.4499999999999997" fill="#1A4C85" stroke="#133A5C" stroke-width="0.9"/>
<path d="M447 597.11H452.6" stroke="#B2B2B7" stroke-width="0.9" fill="none"/><path d="M454.6 597.11L451 595.21L451 599.01Z" fill="#B2B2B7"/>
<circle cx="72.4" cy="597.11" r="1.3" fill="#C4122F"/>
<text class="lab" x="0.3" y="613.82" textLength="38.7">C2<tspan dy="-0.8">–</tspan><tspan dy="0.8">29</tspan></text>
<rect x="111.8" y="605.57" width="335.7" height="9.1" fill="#C8C8CC"/>
<path d="M111.4 606.26L114.75 612.47L108.05 612.47Z" fill="#1C4A80"/>
<circle cx="115.5" cy="610.12" r="2.4499999999999997" fill="#1A4C85" stroke="#133A5C" stroke-width="0.9"/>
<circle cx="121" cy="610.12" r="2.4499999999999997" fill="#1A4C85" stroke="#133A5C" stroke-width="0.9"/>
<circle cx="127.5" cy="610.12" r="2.4499999999999997" fill="#1A4C85" stroke="#133A5C" stroke-width="0.9"/>
<circle cx="161" cy="610.12" r="2.4499999999999997" fill="#1A4C85" stroke="#133A5C" stroke-width="0.9"/>
<circle cx="178" cy="610.12" r="2.4499999999999997" fill="#1A4C85" stroke="#133A5C" stroke-width="0.9"/>
<circle cx="213.5" cy="610.12" r="2.4499999999999997" fill="#1A4C85" stroke="#133A5C" stroke-width="0.9"/>
<circle cx="247.5" cy="610.12" r="2.4499999999999997" fill="#1A4C85" stroke="#133A5C" stroke-width="0.9"/>
<circle cx="280.5" cy="610.12" r="2.4499999999999997" fill="#1A4C85" stroke="#133A5C" stroke-width="0.9"/>
<path d="M447.5 610.12H453.1" stroke="#B2B2B7" stroke-width="0.9" fill="none"/><path d="M455.1 610.12L451.5 608.22L451.5 612.01Z" fill="#B2B2B7"/>
<circle cx="72.4" cy="610.12" r="2.4499999999999997" fill="#1A4C85" stroke="#133A5C" stroke-width="0.9"/>
<text class="lab" x="0.3" y="626.82" textLength="38.7">C2<tspan dy="-0.8">–</tspan><tspan dy="0.8">35</tspan></text>
<rect x="111.8" y="618.57" width="344.45" height="9.1" fill="#C8C8CC"/>
<path d="M111.4 619.27L114.75 625.47L108.05 625.47Z" fill="#1C4A80"/>
<circle cx="118" cy="623.12" r="2.4499999999999997" fill="#1A4C85" stroke="#133A5C" stroke-width="0.9"/>
<circle cx="129.5" cy="623.12" r="2.4499999999999997" fill="#1A4C85" stroke="#133A5C" stroke-width="0.9"/>
<path d="M456.25 623.12H461.85" stroke="#B2B2B7" stroke-width="0.9" fill="none"/><path d="M463.85 623.12L460.25 621.22L460.25 625.02Z" fill="#B2B2B7"/>
<circle cx="72.4" cy="623.12" r="2.4499999999999997" fill="#1A4C85" stroke="#133A5C" stroke-width="0.9"/>
<text class="lab" x="0.3" y="639.83" textLength="38.7">C2<tspan dy="-0.8">–</tspan><tspan dy="0.8">30</tspan></text>
<rect x="111.8" y="631.58" width="344.95" height="9.1" fill="#C8C8CC"/>
<path d="M111.4 632.27L114.75 638.48L108.05 638.48Z" fill="#1C4A80"/>
<circle cx="115.5" cy="636.12" r="2.4499999999999997" fill="#1A4C85" stroke="#133A5C" stroke-width="0.9"/>
<circle cx="119.5" cy="636.12" r="2.4499999999999997" fill="#1A4C85" stroke="#133A5C" stroke-width="0.9"/>
<circle cx="123.5" cy="636.12" r="2.4499999999999997" fill="#1A4C85" stroke="#133A5C" stroke-width="0.9"/>
<circle cx="131.5" cy="636.12" r="2.4499999999999997" fill="#1A4C85" stroke="#133A5C" stroke-width="0.9"/>
<circle cx="281" cy="636.12" r="2.4499999999999997" fill="#1A4C85" stroke="#133A5C" stroke-width="0.9"/>
<circle cx="312.75" cy="636.12" r="2.4499999999999997" fill="#1A4C85" stroke="#133A5C" stroke-width="0.9"/>
<path d="M456.75 636.12H462.35" stroke="#B2B2B7" stroke-width="0.9" fill="none"/><path d="M464.35 636.12L460.75 634.23L460.75 638.02Z" fill="#B2B2B7"/>
<circle cx="72.4" cy="636.12" r="2.4499999999999997" fill="#1A4C85" stroke="#133A5C" stroke-width="0.9"/>
<text class="lab" x="0.3" y="652.83" textLength="38.7">C2<tspan dy="-0.8">–</tspan><tspan dy="0.8">15</tspan></text>
<rect x="111.8" y="644.58" width="368.7" height="9.1" fill="#C8C8CC"/>
<path d="M111.4 645.28L114.75 651.48L108.05 651.48Z" fill="#1C4A80"/>
<circle cx="203" cy="649.13" r="2.4499999999999997" fill="#1A4C85" stroke="#133A5C" stroke-width="0.9"/>
<path d="M480.5 649.13H486.1" stroke="#B2B2B7" stroke-width="0.9" fill="none"/><path d="M488.1 649.13L484.5 647.23L484.5 651.03Z" fill="#B2B2B7"/>
<circle cx="72.4" cy="649.13" r="2.4499999999999997" fill="#1A4C85" stroke="#133A5C" stroke-width="0.9"/>
<text class="lab" x="0.3" y="665.84" textLength="38.7">C2<tspan dy="-0.8">–</tspan><tspan dy="0.8">18</tspan></text>
<rect x="111.8" y="657.59" width="376.95" height="9.1" fill="#C8C8CC"/>
<path d="M111.4 658.28L114.75 664.49L108.05 664.49Z" fill="#1C4A80"/>
<circle cx="116" cy="662.13" r="2.4499999999999997" fill="#1A4C85" stroke="#133A5C" stroke-width="0.9"/>
<circle cx="120.5" cy="662.13" r="2.4499999999999997" fill="#1A4C85" stroke="#133A5C" stroke-width="0.9"/>
<circle cx="179.5" cy="662.13" r="2.4499999999999997" fill="#1A4C85" stroke="#133A5C" stroke-width="0.9"/>
<circle cx="214.5" cy="662.13" r="2.4499999999999997" fill="#1A4C85" stroke="#133A5C" stroke-width="0.9"/>
<circle cx="247.5" cy="662.13" r="2.4499999999999997" fill="#1A4C85" stroke="#133A5C" stroke-width="0.9"/>
<circle cx="287" cy="662.13" r="2.4499999999999997" fill="#1A4C85" stroke="#133A5C" stroke-width="0.9"/>
<path d="M488.75 662.13H494.35" stroke="#B2B2B7" stroke-width="0.9" fill="none"/><path d="M496.35 662.13L492.75 660.24L492.75 664.03Z" fill="#B2B2B7"/>
<circle cx="55.7" cy="662.13" r="2.4499999999999997" fill="#1A4C85" stroke="#133A5C" stroke-width="0.9"/>
<circle cx="72.4" cy="662.13" r="2.4499999999999997" fill="#1A4C85" stroke="#133A5C" stroke-width="0.9"/>
<text class="lab" x="0.3" y="704.85" textLength="38.7">C3<tspan dy="-0.8">–</tspan><tspan dy="0.8">06</tspan></text>
<rect x="111.8" y="696.6" width="17.9" height="9.1" fill="#F59300"/>
<path d="M111.4 697.3L114.75 703.5L108.05 703.5Z" fill="#1C4A80"/>
<circle cx="117" cy="701.15" r="2.4499999999999997" fill="#1A4C85" stroke="#133A5C" stroke-width="0.9"/>
<circle cx="126.5" cy="701.15" r="2.4499999999999997" fill="#1A4C85" stroke="#133A5C" stroke-width="0.9"/>
<path d="M127.45 698.6L132.55 703.7M127.45 703.7L132.55 698.6" stroke="#4A1A5E" stroke-width="1.6" fill="none"/>
<text class="lab" x="0.3" y="717.86" textLength="38.7">C2<tspan dy="-0.8">–</tspan><tspan dy="0.8">32</tspan></text>
<rect x="111.8" y="709.61" width="27.9" height="9.1" fill="#F59300"/>
<path d="M111.4 710.3L114.75 716.5L108.05 716.5Z" fill="#1C4A80"/>
<circle cx="130.5" cy="714.15" r="2.4499999999999997" fill="#1A4C85" stroke="#133A5C" stroke-width="0.9"/>
<circle cx="144.5" cy="714.15" r="2.4499999999999997" fill="#1A4C85" stroke="#133A5C" stroke-width="0.9"/>
<path d="M137.45 711.61L142.55 716.7M137.45 716.7L142.55 711.61" stroke="#4A1A5E" stroke-width="1.6" fill="none"/>
<circle cx="72.4" cy="714.15" r="2.4499999999999997" fill="#1A4C85" stroke="#133A5C" stroke-width="0.9"/>
<text class="lab" x="0.3" y="730.86" textLength="38.7">C2<tspan dy="-0.8">–</tspan><tspan dy="0.8">19</tspan></text>
<rect x="111.8" y="722.61" width="50.4" height="9.1" fill="#F59300"/>
<path d="M111.4 723.31L114.75 729.51L108.05 729.51Z" fill="#1C4A80"/>
<circle cx="117" cy="727.16" r="2.4499999999999997" fill="#1A4C85" stroke="#133A5C" stroke-width="0.9"/>
<path d="M159.95 724.61L165.05 729.71M159.95 729.71L165.05 724.61" stroke="#4A1A5E" stroke-width="1.6" fill="none"/>
<circle cx="72.4" cy="727.16" r="2.4499999999999997" fill="#1A4C85" stroke="#133A5C" stroke-width="0.9"/>
<text class="lab" x="0.3" y="743.87" textLength="38.7">C2<tspan dy="-0.8">–</tspan><tspan dy="0.8">05</tspan></text>
<rect x="111.8" y="735.62" width="64.4" height="9.1" fill="#F59300"/>
<path d="M111.4 736.31L114.75 742.51L108.05 742.51Z" fill="#1C4A80"/>
<circle cx="117.5" cy="740.16" r="2.4499999999999997" fill="#1A4C85" stroke="#133A5C" stroke-width="0.9"/>
<path d="M173.95 737.62L179.05 742.71M173.95 742.71L179.05 737.62" stroke="#4A1A5E" stroke-width="1.6" fill="none"/>
<text x="184.04" y="746.01" style="font-size:10px;font-weight:bold;fill:#231225">*</text>
<circle cx="72.4" cy="740.16" r="1.3" fill="#C4122F"/>
<text class="lab" x="0.3" y="756.87" textLength="38.7">C2<tspan dy="-0.8">–</tspan><tspan dy="0.8">04</tspan></text>
<rect x="111.8" y="748.62" width="73.4" height="9.1" fill="#F59300"/>
<path d="M111.4 749.32L114.75 755.52L108.05 755.52Z" fill="#1C4A80"/>
<circle cx="117" cy="753.17" r="2.4499999999999997" fill="#1A4C85" stroke="#133A5C" stroke-width="0.9"/>
<circle cx="121" cy="753.17" r="2.4499999999999997" fill="#1A4C85" stroke="#133A5C" stroke-width="0.9"/>
<path d="M182.95 750.62L188.05 755.72M182.95 755.72L188.05 750.62" stroke="#4A1A5E" stroke-width="1.6" fill="none"/>
<circle cx="72.4" cy="753.17" r="2.6" fill="#C4122F"/>
<text class="lab" x="0.3" y="769.88" textLength="38.7">C2<tspan dy="-0.8">–</tspan><tspan dy="0.8">13</tspan></text>
<rect x="111.8" y="761.63" width="131.65" height="9.1" fill="#F59300"/>
<path d="M111.4 762.33L114.75 768.53L108.05 768.53Z" fill="#1C4A80"/>
<circle cx="118.5" cy="766.18" r="2.4499999999999997" fill="#1A4C85" stroke="#133A5C" stroke-width="0.9"/>
<circle cx="163.5" cy="766.18" r="2.4499999999999997" fill="#1A4C85" stroke="#133A5C" stroke-width="0.9"/>
<path d="M241.2 763.63L246.3 768.73M241.2 768.73L246.3 763.63" stroke="#4A1A5E" stroke-width="1.6" fill="none"/>
<circle cx="72.4" cy="766.18" r="2.6" fill="#C4122F"/>
<text class="lab" x="0.3" y="782.88" textLength="38.7">C2<tspan dy="-0.8">–</tspan><tspan dy="0.8">24</tspan></text>
<rect x="111.8" y="774.63" width="140.9" height="9.1" fill="#F59300"/>
<path d="M111.4 775.33L114.75 781.53L108.05 781.53Z" fill="#1C4A80"/>
<circle cx="116.5" cy="779.18" r="2.4499999999999997" fill="#1A4C85" stroke="#133A5C" stroke-width="0.9"/>
<path d="M250.45 776.63L255.55 781.73M250.45 781.73L255.55 776.63" stroke="#4A1A5E" stroke-width="1.6" fill="none"/>
<circle cx="72.4" cy="779.18" r="2.4499999999999997" fill="#1A4C85" stroke="#133A5C" stroke-width="0.9"/>
<text class="lab" x="0.3" y="795.89" textLength="38.7">C2<tspan dy="-0.8">–</tspan><tspan dy="0.8">36</tspan></text>
<rect x="111.8" y="787.64" width="152.15" height="9.1" fill="#F59300"/>
<path d="M111.4 788.34L114.75 794.54L108.05 794.54Z" fill="#1C4A80"/>
<circle cx="117" cy="792.19" r="2.4499999999999997" fill="#1A4C85" stroke="#133A5C" stroke-width="0.9"/>
<circle cx="178" cy="792.19" r="2.4499999999999997" fill="#1A4C85" stroke="#133A5C" stroke-width="0.9"/>
<circle cx="218" cy="792.19" r="2.4499999999999997" fill="#1A4C85" stroke="#133A5C" stroke-width="0.9"/>
<path d="M261.7 789.64L266.8 794.74M261.7 794.74L266.8 789.64" stroke="#4A1A5E" stroke-width="1.6" fill="none"/>
<circle cx="55.7" cy="792.19" r="2.4499999999999997" fill="#1A4C85" stroke="#133A5C" stroke-width="0.9"/>
<circle cx="72.4" cy="792.19" r="2.4499999999999997" fill="#1A4C85" stroke="#133A5C" stroke-width="0.9"/>
<text class="lab" x="0.3" y="808.89" textLength="38.7">C2<tspan dy="-0.8">–</tspan><tspan dy="0.8">11</tspan></text>
<rect x="111.8" y="800.64" width="254.65" height="9.1" fill="#F59300"/>
<path d="M111.4 801.34L114.75 807.54L108.05 807.54Z" fill="#1C4A80"/>
<circle cx="117.5" cy="805.19" r="2.4499999999999997" fill="#1A4C85" stroke="#133A5C" stroke-width="0.9"/>
<circle cx="123" cy="805.19" r="2.4499999999999997" fill="#1A4C85" stroke="#133A5C" stroke-width="0.9"/>
<circle cx="128.5" cy="805.19" r="2.4499999999999997" fill="#1A4C85" stroke="#133A5C" stroke-width="0.9"/>
<circle cx="210" cy="805.19" r="2.4499999999999997" fill="#1A4C85" stroke="#133A5C" stroke-width="0.9"/>
<circle cx="252.5" cy="805.19" r="2.4499999999999997" fill="#1A4C85" stroke="#133A5C" stroke-width="0.9"/>
<path d="M364.2 802.64L369.3 807.74M364.2 807.74L369.3 802.64" stroke="#4A1A5E" stroke-width="1.6" fill="none"/>
<circle cx="72.4" cy="805.19" r="1.3" fill="#C4122F"/>
<text class="lab" x="0.3" y="847.91" textLength="38.7">C3<tspan dy="-0.8">–</tspan><tspan dy="0.8">15</tspan></text>
<rect x="111.8" y="839.66" width="201.2" height="9.1" fill="#C8C8CC"/>
<path d="M111.4 840.36L114.75 846.56L108.05 846.56Z" fill="#1C4A80"/>
<circle cx="119" cy="844.21" r="2.9" fill="#C4122F"/>
<circle cx="130" cy="844.21" r="2.4499999999999997" fill="#1A4C85" stroke="#133A5C" stroke-width="0.9"/>
<circle cx="139" cy="844.21" r="2.4499999999999997" fill="#1A4C85" stroke="#133A5C" stroke-width="0.9"/>
<circle cx="148" cy="844.21" r="2.4499999999999997" fill="#1A4C85" stroke="#133A5C" stroke-width="0.9"/>
<circle cx="180" cy="844.21" r="2.4499999999999997" fill="#1A4C85" stroke="#133A5C" stroke-width="0.9"/>
<circle cx="212.5" cy="844.21" r="2.4499999999999997" fill="#1A4C85" stroke="#133A5C" stroke-width="0.9"/>
<path d="M313 844.21H318.6" stroke="#B2B2B7" stroke-width="0.9" fill="none"/><path d="M320.6 844.21L317 842.31L317 846.11Z" fill="#B2B2B7"/>
<text class="lab" x="0.3" y="860.91" textLength="38.7">C2<tspan dy="-0.8">–</tspan><tspan dy="0.8">26</tspan></text>
<rect x="111.8" y="852.66" width="386.2" height="9.1" fill="#C8C8CC"/>
<path d="M111.4 853.36L114.75 859.56L108.05 859.56Z" fill="#1C4A80"/>
<circle cx="117" cy="857.21" r="1.3" fill="#C4122F"/>
<circle cx="133" cy="857.21" r="2.4499999999999997" fill="#1A4C85" stroke="#133A5C" stroke-width="0.9"/>
<circle cx="179" cy="857.21" r="2.4499999999999997" fill="#1A4C85" stroke="#133A5C" stroke-width="0.9"/>
<path d="M498 857.21H503.6" stroke="#B2B2B7" stroke-width="0.9" fill="none"/><path d="M505.6 857.21L502 855.31L502 859.11Z" fill="#B2B2B7"/>
<circle cx="55.7" cy="857.21" r="2.4499999999999997" fill="#1A4C85" stroke="#133A5C" stroke-width="0.9"/>
<circle cx="72.4" cy="857.21" r="2.4499999999999997" fill="#1A4C85" stroke="#133A5C" stroke-width="0.9"/>
<text class="lab" x="0.3" y="873.92" textLength="38.7">C3<tspan dy="-0.8">–</tspan><tspan dy="0.8">14</tspan></text>
<rect x="111.8" y="865.67" width="71.7" height="9.1" fill="#C8C8CC"/>
<path d="M111.4 866.37L114.75 872.57L108.05 872.57Z" fill="#1C4A80"/>
<circle cx="121.5" cy="870.22" r="2.4499999999999997" fill="#1A4C85" stroke="#133A5C" stroke-width="0.9"/>
<circle cx="133" cy="870.22" r="2.4499999999999997" fill="#1A4C85" stroke="#133A5C" stroke-width="0.9"/>
<circle cx="141" cy="870.22" r="2.4499999999999997" fill="#1A4C85" stroke="#133A5C" stroke-width="0.9"/>
<circle cx="148.5" cy="870.22" r="2.4499999999999997" fill="#1A4C85" stroke="#133A5C" stroke-width="0.9"/>
<circle cx="179.5" cy="870.22" r="2.9" fill="#C4122F"/>
<path d="M183.5 870.22H189.1" stroke="#B2B2B7" stroke-width="0.9" fill="none"/><path d="M191.1 870.22L187.5 868.32L187.5 872.12Z" fill="#B2B2B7"/>
<text class="lab" x="0.3" y="912.93" textLength="38.7">C2<tspan dy="-0.8">–</tspan><tspan dy="0.8">07</tspan></text>
<rect x="111.8" y="904.68" width="153.2" height="9.1" fill="#C8C8CC"/>
<path d="M111.4 905.38L114.75 911.58L108.05 911.58Z" fill="#1C4A80"/>
<circle cx="160" cy="909.23" r="2.4499999999999997" fill="#1A4C85" stroke="#133A5C" stroke-width="0.9"/>
<circle cx="178.5" cy="909.23" r="2.4499999999999997" fill="#1A4C85" stroke="#133A5C" stroke-width="0.9"/>
<circle cx="213" cy="909.23" r="2.4499999999999997" fill="#1A4C85" stroke="#133A5C" stroke-width="0.9"/>
<circle cx="246.75" cy="909.23" r="2.4499999999999997" fill="#1A4C85" stroke="#133A5C" stroke-width="0.9"/>
<path d="M264.2 906.68L269.3 911.78M264.2 911.78L269.3 906.68" stroke="#E07F10" stroke-width="1.6" fill="none"/>
<circle cx="55.7" cy="909.23" r="2.4499999999999997" fill="#1A4C85" stroke="#133A5C" stroke-width="0.9"/>
<circle cx="72.4" cy="909.23" r="2.4499999999999997" fill="#1A4C85" stroke="#133A5C" stroke-width="0.9"/>
<text class="lab" x="0.3" y="925.94" textLength="38.7">C2<tspan dy="-0.8">–</tspan><tspan dy="0.8">17</tspan></text>
<rect x="111.8" y="917.69" width="282.2" height="9.1" fill="#C8C8CC"/>
<path d="M111.4 918.38L114.75 924.59L108.05 924.59Z" fill="#1C4A80"/>
<circle cx="117" cy="922.24" r="2.4499999999999997" fill="#1A4C85" stroke="#133A5C" stroke-width="0.9"/>
<circle cx="120.5" cy="922.24" r="2.4499999999999997" fill="#1A4C85" stroke="#133A5C" stroke-width="0.9"/>
<circle cx="127.5" cy="922.24" r="2.4499999999999997" fill="#1A4C85" stroke="#133A5C" stroke-width="0.9"/>
<circle cx="145" cy="922.24" r="2.4499999999999997" fill="#1A4C85" stroke="#133A5C" stroke-width="0.9"/>
<circle cx="160.5" cy="922.24" r="1.3" fill="#C4122F"/>
<circle cx="210" cy="922.24" r="1.3" fill="#C4122F"/>
<path d="M393.2 919.69L398.3 924.78M393.2 924.78L398.3 919.69" stroke="#E07F10" stroke-width="1.6" fill="none"/>
<circle cx="72.4" cy="922.24" r="2.4499999999999997" fill="#1A4C85" stroke="#133A5C" stroke-width="0.9"/>
<path d="M44.8 37.7V935H83.9V37.7" stroke="#000" stroke-width="1.4" fill="none"/>
<path d="M55.7 935V939.8M72.4 935V939.8" stroke="#000" stroke-width="1.3" fill="none"/>
<text class="sm" x="61" y="951.6" text-anchor="end">Pre–ASCT</text><text class="sm" x="61" y="961.8" text-anchor="end">plasma</text><text class="sm" x="61" y="972" text-anchor="end">sample</text>
<text class="sm" x="78" y="951.6" text-anchor="middle">ASC</text><text class="sm" x="78" y="961.8" text-anchor="middle">sample</text>
<path d="M110.9 935H512.3M111.5 935V939.8M178.3 935V939.8M245.1 935V939.8M311.9 935V939.8M378.7 935V939.8M445.5 935V939.8M512.3 935V939.8" stroke="#000" stroke-width="1.35" fill="none"/>
<text class="tk" x="112.2" y="955.7" text-anchor="middle">0</text>
<text class="tk" x="179" y="955.7" text-anchor="middle">12</text>
<text class="tk" x="245.8" y="955.7" text-anchor="middle">24</text>
<text class="tk" x="312.6" y="955.7" text-anchor="middle">36</text>
<text class="tk" x="379.4" y="955.7" text-anchor="middle">48</text>
<text class="tk" x="446.2" y="955.7" text-anchor="middle">60</text>
<text class="tk" x="520.6" y="955.7" text-anchor="end">72</text>
<text x="235.4" y="975.6" style="font-size:14px;fill:#111;stroke:#111;stroke-width:0.25px" textLength="154.4" lengthAdjust="spacingAndGlyphs">Progression–free survival, months</text>
<path d="M394.5 51.95L399 59.55L390 59.55Z" fill="#1C4A80"/>
<text class="lg" x="403.7" y="59" textLength="30">ASCT</text>
<circle cx="394.4" cy="75.7" r="2.9" fill="#D50D2C" stroke="#A5122E" stroke-width="0.8"/><text class="lg" x="402.4" y="79.2">Positive sample</text>
<circle cx="394.4" cy="94.1" r="2.9" fill="#1B4F8C" stroke="#143B5F" stroke-width="0.8"/><text class="lg" x="402.6" y="98">Negative sample</text>
<text class="lg" x="440" y="125.7" text-anchor="middle" textLength="90">Detectable ctDNA</text><text class="lg" x="440" y="140" text-anchor="middle">(counts per mL)</text>
<circle cx="414.2" cy="163.7" r="1.1" fill="#C4122F"/><text class="lg" x="422.3" y="167.2">0.1</text>
<circle cx="414.2" cy="182" r="2.4" fill="#C4122F"/><text class="lg" x="422.3" y="185.7">10</text>
<circle cx="414.2" cy="200.8" r="3.8" fill="#C4122F"/><text class="lg" x="422.3" y="204.5">1,000</text>
<rect x="394.3" y="231.5" width="42.2" height="13.5" fill="#F59300"/><text class="lg" x="441.3" y="241.8">Relapse</text>
<rect x="394.3" y="250.4" width="42.2" height="13.4" fill="#C8C8CC"/><text class="lg" x="441.3" y="260.2">No relapse</text>
<path d="M429.6 278.2L436.2 284.8M429.6 284.8L436.2 278.2" stroke="#4A1A5E" stroke-width="1.45" fill="none"/>
<text class="lg" x="441.1" y="284.9">Time of relapse</text>
<path d="M429.6 297.1L436.2 303.7M429.6 303.7L436.2 297.1" stroke="#E07F10" stroke-width="1.45" fill="none"/>
<text class="lg" x="441.1" y="305.1">Time of death</text>
</svg></body></html>
